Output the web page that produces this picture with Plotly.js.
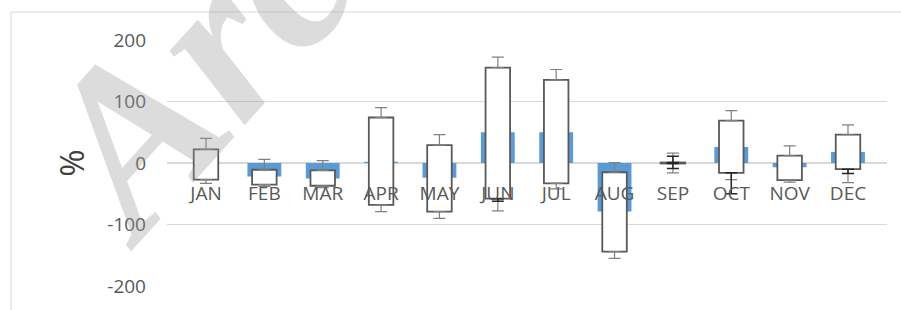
<!DOCTYPE html>
<html>
<head>
<meta charset="utf-8">
<script src="https://cdn.plot.ly/plotly-3.0.1.min.js"></script>
<style>html,body{margin:0;padding:0;background:#fff;}#chart{width:901px;height:310px;}</style>
</head>
<body>
<div id="chart"></div>
<script>
// Categories
var months = ['JAN','FEB','MAR','APR','MAY','JUN','JUL','AUG','SEP','OCT','NOV','DEC'];
// Blue bars (mean change, %)
var meanVals = [0, -22, -25, 2, -24, 50, 50, -79, 0, 26, -7, 18];
// Box (up/down bar) top and bottom
var boxTop    = [22, -11, -12, 74, 29, 155, 135, -15, 0.8, 69, 12, 46];
var boxBottom = [-27, -35, -37, -68, -79, -58, -33, -144, -0.8, -16, -28, -10];
// Whisker ends
var whiskerHigh = [40, 6, 4, 90, 46, 172, 152, 0.5, 16, 85, 28, 62];
var whiskerLow  = [-33, -38, -40, -79, -90, -78, -42, -155, -16, -27, -31, -32];
// Secondary caps
var extraHigh = [null, null, null, null, null, null, null, null, 11, null, null, null];
var extraLow  = [null, null, null, null, null, -62, null, null, -9, -50, null, -17];
// Y ticks
var yTicks = [-200, -100, 0, 100, 200];

var boxHeight = boxTop.map(function(t, i){ return t - boxBottom[i]; });
var upPlus = whiskerHigh.map(function(h, i){ return h - boxTop[i]; });
var lowMinus = whiskerLow.map(function(l, i){ return boxBottom[i] - l; });
var exUpPlus = extraHigh.map(function(h, i){ return h === null ? null : h - boxTop[i]; });
var exLowMinus = extraLow.map(function(l, i){ return l === null ? null : boxBottom[i] - l; });
var exUpY = extraHigh.map(function(h, i){ return h === null ? null : boxTop[i]; });
var exLowY = extraLow.map(function(l, i){ return l === null ? null : boxBottom[i]; });
var zeros = months.map(function(){ return 0; });

var whiskerStyle = {color:'#808080', thickness:1.2, width:6};
var traces = [
  {type:'bar', x:months, y:meanVals, width:0.58, marker:{color:'#5b9bd5'}, hoverinfo:'skip'},
  {type:'bar', x:months, y:boxHeight, base:boxBottom, width:0.42,
   marker:{color:'#ffffff', line:{color:'#595959', width:1.8}}, hoverinfo:'skip'},
  {type:'scatter', mode:'markers', x:months, y:boxTop, marker:{size:1, color:'rgba(0,0,0,0)'},
   error_y:Object.assign({type:'data', symmetric:false, array:upPlus, arrayminus:zeros}, whiskerStyle), hoverinfo:'skip'},
  {type:'scatter', mode:'markers', x:months, y:boxBottom, marker:{size:1, color:'rgba(0,0,0,0)'},
   error_y:Object.assign({type:'data', symmetric:false, array:zeros, arrayminus:lowMinus}, whiskerStyle), hoverinfo:'skip'},
  {type:'scatter', mode:'markers', x:months, y:exUpY, marker:{size:1, color:'rgba(0,0,0,0)'},
   error_y:{type:'data', symmetric:false, array:exUpPlus, arrayminus:zeros, color:'#262626', thickness:1.5, width:6}, hoverinfo:'skip'},
  {type:'scatter', mode:'markers', x:months, y:exLowY, marker:{size:1, color:'rgba(0,0,0,0)'},
   error_y:{type:'data', symmetric:false, array:zeros, arrayminus:exLowMinus, color:'#262626', thickness:1.5, width:6}, hoverinfo:'skip'}
];

var layout = {
  width:901, height:310,
  margin:{l:167, r:14, t:40, b:24},
  paper_bgcolor:'#ffffff', plot_bgcolor:'#ffffff',
  showlegend:false,
  barmode:'overlay',
  font:{family:'"Open Sans", sans-serif', color:'#595959', size:19},
  xaxis:{
    anchor:'free', position:0.5, type:'category',
    showgrid:false, showline:false, zeroline:false,
    ticks:'', ticklabelstandoff:17,
    tickfont:{size:19, color:'#595959'}
  },
  yaxis:{
    range:[-200, 200], tickvals:yTicks, ticktext:yTicks.map(String),
    showgrid:true, gridcolor:'#d9d9d9', gridwidth:1.6,
    zeroline:false, showline:false, ticks:'', ticklabelstandoff:20,
    tickfont:{size:19, color:'#595959'},
    title:{text:'%', font:{size:33, color:'#404040'}, standoff:12}
  },
  shapes:[
    {type:'rect', xref:'paper', yref:'paper', x0:-0.2167, x1:1.03, y0:-0.2, y1:1.1138,
     line:{color:'#d9d9d9', width:1}, fillcolor:'rgba(0,0,0,0)', layer:'below'}
  ],
  annotations:[
    {text:'<b><i>Arc</i></b>', xref:'paper', yref:'paper', x:0.035, y:0.89,
     xanchor:'center', yanchor:'middle', showarrow:false, textangle:-48,
     font:{family:'"Liberation Serif", serif', size:230, color:'rgba(150,150,150,0.33)'}}
  ]
};

Plotly.newPlot('chart', traces, layout, {staticPlot:true, displayModeBar:false});
</script>
</body>
</html>
